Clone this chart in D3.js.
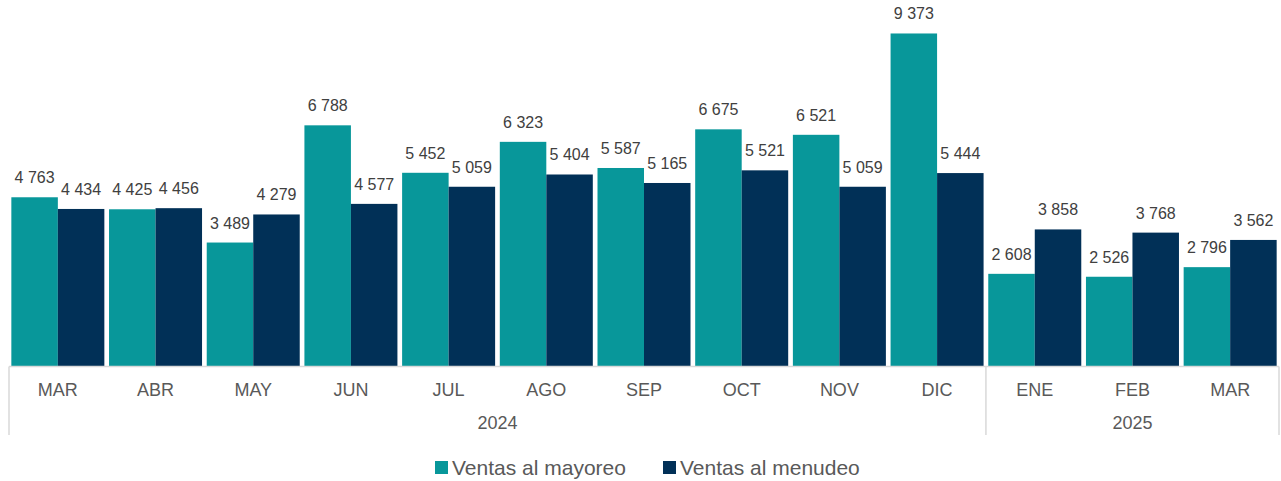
<!DOCTYPE html>
<html><head><meta charset="utf-8">
<script src="https://cdn.jsdelivr.net/npm/d3@7"></script>
<style>body{margin:0;background:#fff}svg{display:block}text{font-family:"Liberation Sans",Arial,sans-serif}</style>
</head><body><svg id="c" width="1281" height="481"></svg>
<script>
const months = ["MAR","ABR","MAY","JUN","JUL","AGO","SEP","OCT","NOV","DIC","ENE","FEB","MAR"];
const years = [{label:"2024", from:0, to:10},{label:"2025", from:10, to:13}];
const seriesNames = ["Ventas al mayoreo","Ventas al menudeo"];
const mayoreo = [4763,4425,3489,6788,5452,6323,5587,6675,6521,9373,2608,2526,2796];
const menudeo = [4434,4456,4279,4577,5059,5404,5165,5521,5059,5444,3858,3768,3562];
const colors = ["#08979a","#013057"];

const svg = d3.select("#c");
const left = 9, right = 1279, base = 366.5;
const idx = months.map((d,i)=>i);
const x0 = d3.scaleBand().domain(idx).range([left,right]).padding(0);
const bw = x0.bandwidth();
const x1 = d3.scaleBand().domain([0,1]).range([bw*0.024, bw*0.976]).padding(0);
const y = d3.scaleLinear().domain([0,10000]).range([base, base-355.3]);
const fmt = v => d3.format(",")(v).replace(/,/g," ");
const data = [mayoreo, menudeo];

const g = svg.append("g");
months.forEach((m,i)=>{
  data.forEach((arr,s)=>{
    const xx = x0(i)+x1(s);
    g.append("rect").attr("x",xx).attr("y",y(arr[i])).attr("width",x1.bandwidth()).attr("height",y(0)-y(arr[i])).attr("fill",colors[s]);
    g.append("text").attr("x",xx+x1.bandwidth()/2).attr("y",y(arr[i])-14).attr("text-anchor","middle")
      .attr("font-size",16).attr("fill","#404040").text(fmt(arr[i]));
  });
});

// axis
const ax = svg.append("g").attr("stroke","#d9d9d9").attr("stroke-width",1.5).attr("fill","none");
ax.append("line").attr("x1",left).attr("x2",right).attr("y1",base).attr("y2",base);
const bounds = [0,10,13];
bounds.forEach(b=>{
  const xx = b===13 ? right : x0(b);
  ax.append("line").attr("x1",xx).attr("x2",xx).attr("y1",base).attr("y2",435);
});
months.forEach((m,i)=>{
  svg.append("text").attr("x",x0(i)+bw/2).attr("y",395.5).attr("text-anchor","middle").attr("font-size",18).attr("fill","#595959").text(m);
});
years.forEach(yy=>{
  const a = x0(yy.from), b = yy.to===13 ? right : x0(yy.to);
  svg.append("text").attr("x",(a+b)/2).attr("y",429).attr("text-anchor","middle").attr("font-size",18).attr("fill","#595959").text(yy.label);
});

// legend
const lg = svg.append("g");
const legX = [435, 663];
seriesNames.forEach((n,s)=>{
  lg.append("rect").attr("x",legX[s]).attr("y",461).attr("width",13).attr("height",13).attr("fill",colors[s]);
  lg.append("text").attr("x",legX[s]+17).attr("y",474.5).attr("font-size",21).attr("fill","#595959").text(n);
});
</script></body></html>
